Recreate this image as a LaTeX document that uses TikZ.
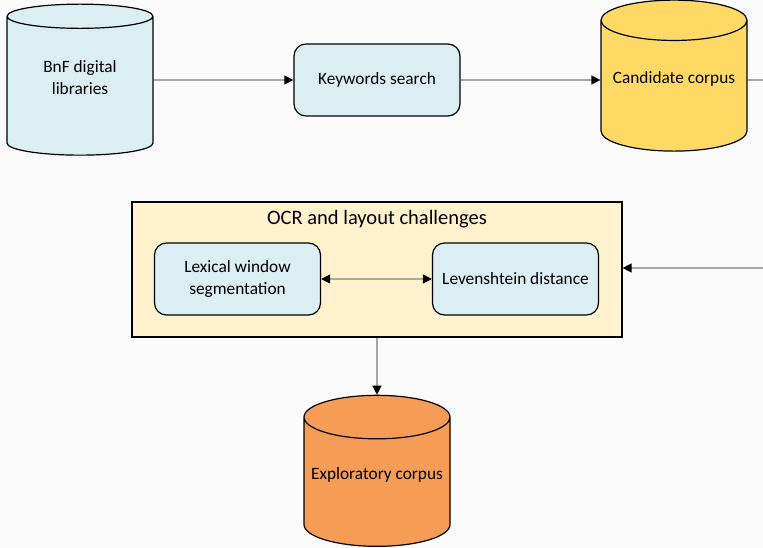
\documentclass[tikz,border=0pt]{standalone}
\usepackage{fontspec}
\setmainfont{Carlito}
\usetikzlibrary{shapes.geometric,arrows.meta}
\definecolor{bluefill}{HTML}{DAEEF3}
\definecolor{goldfill}{HTML}{FFD966}
\definecolor{orangefill}{HTML}{F59D56}
\definecolor{creamfill}{HTML}{FFF2CC}
\definecolor{linegray}{HTML}{A6A6A6}
\definecolor{bggray}{HTML}{FAFAFA}
\newcommand{\dbtext}[1]{\raisebox{6.5pt}[\height][\depth]{\begin{tabular}{@{}c@{}}#1\end{tabular}}}
\begin{document}
\begin{tikzpicture}[x=1pt,y=-1pt,>={Triangle[length=9pt,width=9pt,color=black]},
    txt/.style={font=\fontsize{17.3}{22}\selectfont,align=center},
    db/.style={txt,draw,line width=1.2pt,cylinder,shape border rotate=90,aspect=0.33,
        minimum width=146pt,minimum height=151pt,inner sep=0pt},
    proc/.style={txt,draw,line width=1.2pt,rounded corners=12pt,fill=bluefill,
        minimum width=166pt,minimum height=72pt,inner sep=0pt},
    link/.style={draw=linegray,line width=1.3pt}]
    \fill[bggray](0,0)rectangle(763,548);
    \useasboundingbox(0,0)rectangle(763,548);
    % sources and corpora
    \node[db,fill=bluefill](bnf)at(80,86){\dbtext{BnF digital\\libraries}};
    \node[proc](kw)at(377,80){Keywords search};
    \node[db,fill=goldfill](cand)at(674,86){\dbtext{Candidate corpus}};
    % filtering step
    \node[draw,line width=1.2pt,fill=creamfill,minimum width=490pt,minimum height=135pt](ocr)at(377,269.5){};
    \node[font=\fontsize{20.5}{24}\selectfont](title)at(377,219){OCR and layout challenges};
    \node[proc](lex)at(237.5,279){Lexical window\\segmentation};
    \node[proc](lev)at(515.5,279){Levenshtein distance};
    \node[db,fill=orangefill](expl)at(377,482){\dbtext{Exploratory corpus}};
    % connectors
    \coordinate(out)at(763,80);
    \coordinate(in)at(763,268);
    \draw[link,->](bnf.east|-kw)--(kw);
    \draw[link,->](kw)--(kw-|cand.west);
    \draw[link](cand.east|-out)--(out);
    \draw[link,->](in)--(in-|ocr.east);
    \draw[link,<->](lex)--(lev);
    \draw[link,->](ocr)--(expl.north);
\end{tikzpicture}
\end{document}
